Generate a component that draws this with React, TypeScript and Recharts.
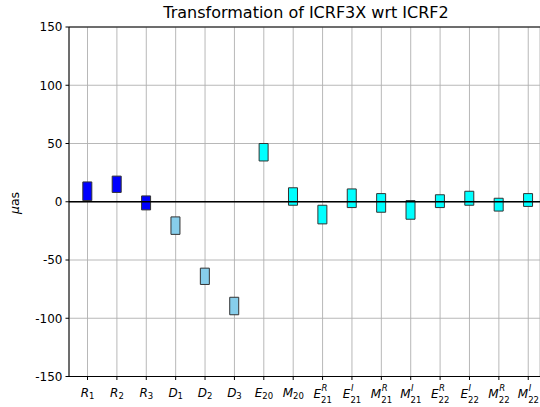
import { BarChart, Bar, XAxis, YAxis, CartesianGrid, ReferenceLine, Cell } from 'recharts';

// tick labels: italic letter, optional superscript, subscript
const bases = ['R', 'R', 'R', 'D', 'D', 'D', 'E', 'M', 'E', 'E', 'M', 'M', 'E', 'E', 'M', 'M'];
const sups = ['', '', '', '', '', '', '', '', 'R', 'I', 'R', 'I', 'R', 'I', 'R', 'I'];
const subs = ['1', '2', '3', '1', '2', '3', '20', '20', '21', '21', '21', '21', '22', '22', '22', '22'];

// lower / upper end of each bar (µas)
const lows = [1, 8, -7, -28, -71, -97, 35, -3, -19, -5, -9, -15, -5, -3, -8, -4];
const highs = [17, 22, 5, -13, -57, -82, 50, 12, -3, 11, 7, 1, 6, 9, 3, 7];

const groupColors = ['#0000ff', '#0000ff', '#0000ff', '#87ceeb', '#87ceeb', '#87ceeb',
    '#00ffff', '#00ffff', '#00ffff', '#00ffff', '#00ffff', '#00ffff', '#00ffff', '#00ffff', '#00ffff', '#00ffff'];

const yTicks = [-150, -100, -50, 0, 50, 100, 150];

const data = bases.map((_, i) => ({ idx: i, range: [lows[i], highs[i]] }));

const FONT = '"DejaVu Sans", sans-serif';

const letterW: Record<string, number> = { R: 8.3, D: 9.2, E: 7.6, M: 10.4 };
const supW: Record<string, number> = { R: 5.8, I: 2.5, '': 0 };

const XTick = (props: any) => {
    const { x, y, payload } = props;
    const i = payload.value as number;
    const b = bases[i];
    const mw = letterW[b];
    const sw = subs[i].length * 5.3;
    const total = mw + Math.max(sw, supW[sups[i]]);
    const start = -total / 2;
    const hasSup = sups[i] !== '';
    return (
        <g transform={`translate(${x},${y})`} fontFamily={FONT} fill="#000">
            <text x={start} y={hasSup ? 18 : 16.5} fontSize={12} fontStyle="italic">{b}</text>
            {hasSup && (
                <text x={start + mw + 0.5} y={11} fontSize={8.5} fontStyle="italic">{sups[i]}</text>
            )}
            <text x={start + mw} y={hasSup ? 23 : 18.5} fontSize={8.5}>{subs[i]}</text>
        </g>
    );
};

export default function App() {
    return (
        <div style={{ position: 'absolute', left: 0, top: 0, width: 540, height: 407, overflow: 'hidden', background: '#fff' }}>
            <div style={{
                position: 'absolute', left: 0, width: 612, top: 3, textAlign: 'center',
                fontFamily: FONT, fontSize: 16, color: '#000', whiteSpace: 'nowrap'
            }}>
                Transformation of ICRF3X wrt ICRF2
            </div>
            <div style={{
                position: 'absolute', left: 14, top: 203, transform: 'translate(-50%, -50%) rotate(-90deg)',
                fontFamily: FONT, fontSize: 12.5, color: '#000', whiteSpace: 'nowrap'
            }}>
                <span style={{ fontStyle: 'italic' }}>μ</span>as
            </div>
            <BarChart
                width={540}
                height={407}
                data={data}
                margin={{ top: 27, right: 0, left: 0, bottom: 0 }}
                style={{ position: 'absolute', left: 0, top: 0 }}
            >
                <CartesianGrid stroke="#b0b0b0" strokeWidth={0.9} />
                <XAxis
                    dataKey="idx"
                    type="number"
                    domain={[-0.63, 15.4]}
                    allowDataOverflow
                    ticks={bases.map((_, i) => i)}
                    interval={0}
                    height={30.5}
                    tickSize={3.5}
                    tickMargin={0}
                    stroke="#000"
                    tickLine={{ stroke: '#000' }}
                    tick={<XTick />}
                />
                <YAxis
                    type="number"
                    domain={[-150, 150]}
                    ticks={yTicks}
                    interval={0}
                    width={69}
                    tickSize={3.5}
                    tickMargin={3}
                    stroke="#000"
                    tickLine={{ stroke: '#000' }}
                    tick={{ fill: '#000', fontSize: 12, fontFamily: FONT }}
                />
                <ReferenceLine y={150} stroke="#000" strokeWidth={1} />
                <ReferenceLine y={0} stroke="#000" strokeWidth={1.7} />
                <Bar dataKey="range" barSize={9} isAnimationActive={false} stroke="#333" strokeWidth={1}>
                    {data.map((_, i) => (
                        <Cell key={`cell-${i}`} fill={groupColors[i]} />
                    ))}
                </Bar>
            </BarChart>
        </div>
    );
}
